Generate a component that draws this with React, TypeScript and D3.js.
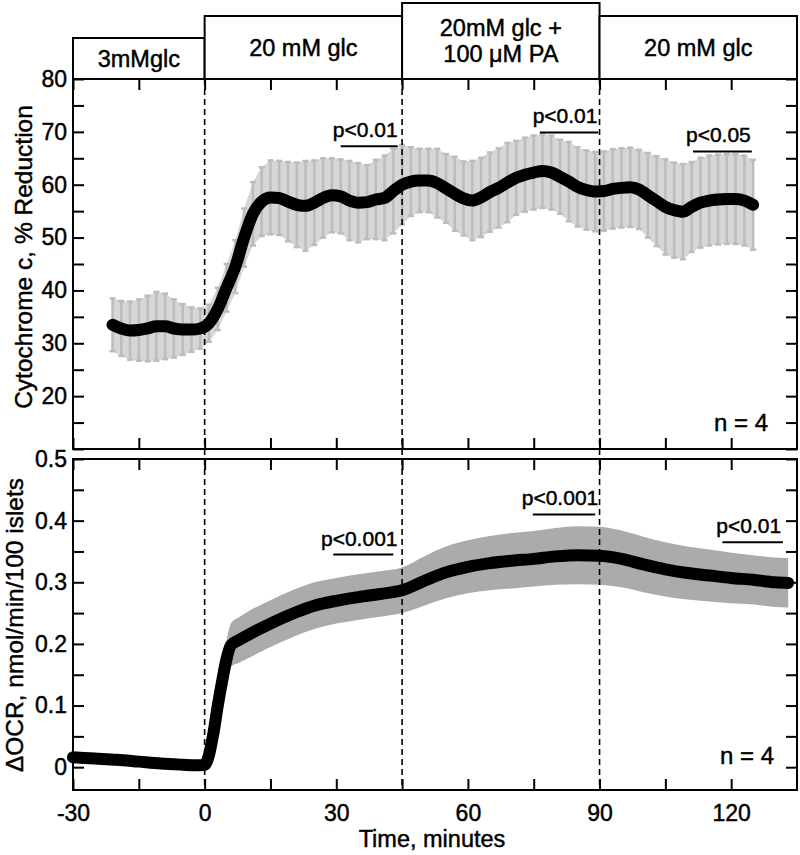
import React, { useRef, useEffect } from "react";
import * as d3 from "d3";

// phases shown in the header boxes
const phaseLabels = [["3mMglc"], ["20 mM glc"], ["20mM glc +", "100 μM PA"], ["20 mM glc"]];
const phaseStart = [-30, 0, 45, 90];
const phaseEnd = [0, 45, 90, 135];
const phaseChanges = [0, 45, 90];

// cytochrome c reduction (%), mean and SD
const cytTime = [
  -21, -19, -17, -15, -13, -11, -9, -7, -5, -3, -1, 1, 3, 5, 7, 9, 11, 13, 15, 17,
  19, 21, 23, 25, 27, 29, 31, 33, 35, 37, 39, 41, 43, 45, 47, 49, 51, 53, 55, 57,
  59, 61, 63, 65, 67, 69, 71, 73, 75, 77, 79, 81, 83, 85, 87, 89, 91, 93, 95, 97,
  99, 101, 103, 105, 107, 109, 111, 113, 115, 117, 119, 121, 123, 125,
];
const cytMean = [
  33.5, 32.8, 32.4, 32.5, 32.8, 33.2, 33.2, 32.8, 32.6, 32.6, 32.8, 33.8, 36.5, 40.5, 44.5, 50, 54.5, 56.8, 57.6, 57.5,
  56.8, 56.2, 56.0, 56.6, 57.5, 58.0, 57.8, 57.0, 56.6, 56.7, 57.2, 57.5, 58.8, 60.0, 60.6, 60.8, 60.8, 60.3, 59.3, 58.3,
  57.4, 57.0, 57.6, 58.6, 59.4, 60.4, 61.3, 61.9, 62.3, 62.6, 62.3, 61.5, 60.6, 59.6, 59.0, 58.7, 58.8, 59.2, 59.4, 59.5,
  59.1, 58.0, 56.9, 55.8, 55.2, 54.9, 55.8, 56.6, 57.0, 57.2, 57.3, 57.3, 57.0, 56.2,
];
const cytSd = [
  5.0, 5.2, 5.5, 5.8, 6.2, 6.5, 6.2, 5.5, 4.8, 4.2, 3.8, 3.5, 4.0, 4.5, 5.0, 5.5, 6.0, 6.5, 7.0, 7.0,
  7.5, 8.0, 8.5, 8.0, 7.5, 7.0, 7.0, 7.5, 7.5, 7.0, 7.5, 8.0, 8.0, 7.5, 6.5, 6.0, 6.0, 6.5, 6.5, 7.0,
  7.0, 7.5, 7.5, 7.5, 7.5, 7.5, 7.0, 7.0, 7.0, 7.0, 7.0, 7.0, 7.5, 7.5, 7.5, 7.5, 7.5, 7.5, 7.5, 7.5,
  7.5, 8.0, 8.5, 9.0, 9.0, 9.0, 8.5, 8.5, 8.5, 8.5, 8.5, 8.5, 8.5, 8.5,
];

// delta OCR (nmol/min/100 islets), mean and SD
const ocrTime = [
  -30, -25, -20, -15, -10, -5, -2, 0, 1, 2, 3, 4, 5, 6, 8, 10, 15, 20, 25, 30, 35,
  40, 45, 50, 55, 60, 65, 70, 75, 80, 85, 90, 95, 100, 105, 110, 115, 120, 125, 130, 133,
];
const ocrMean = [
  0.016, 0.014, 0.012, 0.009, 0.006, 0.004, 0.003, 0.004, 0.02, 0.055, 0.1, 0.14, 0.176, 0.198, 0.207, 0.215, 0.233, 0.249, 0.262, 0.27, 0.276,
  0.281, 0.287, 0.302, 0.316, 0.325, 0.331, 0.335, 0.338, 0.342, 0.344, 0.343, 0.338, 0.329, 0.321, 0.315, 0.311, 0.307, 0.304, 0.3, 0.299,
];
const ocrSd = [
  0.006, 0.006, 0.006, 0.006, 0.006, 0.006, 0.006, 0.006, 0.01, 0.015, 0.02, 0.025, 0.03, 0.035, 0.037, 0.038, 0.038, 0.038, 0.038, 0.037, 0.037,
  0.037, 0.037, 0.04, 0.042, 0.043, 0.044, 0.045, 0.045, 0.046, 0.047, 0.047, 0.046, 0.045, 0.044, 0.043, 0.042, 0.041, 0.04, 0.04, 0.04,
];

// significance bars
const sigTopLabel = ["p<0.01", "p<0.01", "p<0.05"];
const sigTopFrom = [31, 76.4, 111.3];
const sigTopTo = [44, 89.7, 124.7];
const sigTopLevel = [67.3, 69.9, 66.3];
const sigBotLabel = ["p<0.001", "p<0.001", "p<0.01"];
const sigBotFrom = [29.3, 74.8, 118];
const sigBotTo = [43, 89, 131.8];
const sigBotLevel = [0.345, 0.41, 0.365];

const xTickValues = [-30, -15, 0, 15, 30, 45, 60, 75, 90, 105, 120];
const cytTicks = [10, 15, 20, 25, 30, 35, 40, 45, 50, 55, 60, 65, 70, 75, 80];
const ocrTicks = [0, 0.05, 0.1, 0.15, 0.2, 0.25, 0.3, 0.35, 0.4, 0.45, 0.5];

const FONT = "'Liberation Sans', Arial, Helvetica, sans-serif";

const App = () => {
  const svgRef = useRef<SVGSVGElement>(null);

  useEffect(() => {
    const svg = d3.select(svgRef.current);
    svg.selectAll("*").remove();
    svg.style("font-family", FONT);

    const left = 73;
    const right = 797;
    const topY0 = 79;
    const topY1 = 449;
    const botY0 = 459;
    const botY1 = 790;

    const x = d3.scaleLinear().domain([-30, 135]).range([left, right]);
    const yTop = d3.scaleLinear().domain([10, 80]).range([topY1, topY0]);
    const yBot = d3.scaleLinear().domain([-0.037, 0.5]).range([botY1, botY0]);

    // slightly heavier text, like the scanned figure
    const heavy = (sel: any) => sel.attr("stroke", "black").attr("stroke-width", 0.45).attr("fill", "black");

    // header boxes
    const boxTops = [38, 16, 3, 16];
    phaseStart.forEach((s, i) => {
      const top = boxTops[i];
      svg
        .append("rect")
        .attr("x", x(s))
        .attr("y", top)
        .attr("width", x(phaseEnd[i]) - x(s))
        .attr("height", topY0 - top)
        .attr("fill", "white")
        .attr("stroke", "black")
        .attr("stroke-width", 2);
      const lines = phaseLabels[i];
      const cy = (top + topY0) / 2;
      lines.forEach((l, j) => {
        svg
          .append("text")
          .attr("x", (x(s) + x(phaseEnd[i])) / 2)
          .attr("y", cy + 8 + (j - (lines.length - 1) / 2) * 26)
          .attr("text-anchor", "middle")
          .style("font-size", "23.5px")
          .call(heavy)
          .text(l);
      });
    });

    // top panel: error bars over a light band
    const cytData = cytTime.map((t, i) => ({ t, m: cytMean[i], sd: cytSd[i] }));
    const cytBand = d3
      .area<any>()
      .x((d) => x(d.t))
      .y0((d) => yTop(d.m - d.sd))
      .y1((d) => yTop(d.m + d.sd))
      .curve(d3.curveLinear);
    svg.append("path").datum(cytData).attr("d", cytBand).attr("fill", "#d6d6d6");
    const bars = svg.append("g").attr("stroke", "#bcbcbc").attr("stroke-width", 2.5);
    cytData.forEach((d) => {
      const xx = x(d.t);
      const y0 = yTop(d.m - d.sd);
      const y1 = yTop(d.m + d.sd);
      bars.append("line").attr("x1", xx).attr("x2", xx).attr("y1", y0).attr("y2", y1);
      bars.append("line").attr("x1", xx - 3).attr("x2", xx + 3).attr("y1", y0).attr("y2", y0);
      bars.append("line").attr("x1", xx - 3).attr("x2", xx + 3).attr("y1", y1).attr("y2", y1);
    });

    // bottom panel: SD band
    const ocrData = ocrTime.map((t, i) => ({ t, m: ocrMean[i], sd: ocrSd[i] }));
    const band = d3
      .area<any>()
      .x((d) => x(d.t))
      .y0((d) => yBot(d.m - d.sd))
      .y1((d) => yBot(d.m + d.sd))
      .curve(d3.curveMonotoneX);
    svg.append("path").datum(ocrData).attr("d", band).attr("fill", "#ababab");

    // phase change lines
    phaseChanges.forEach((t) => {
      svg
        .append("line")
        .attr("x1", x(t))
        .attr("x2", x(t))
        .attr("y1", topY0)
        .attr("y2", botY1)
        .attr("stroke", "black")
        .attr("stroke-width", 1.6)
        .attr("stroke-dasharray", "6,4");
    });

    // mean traces
    const cytLine = d3
      .line<any>()
      .x((d) => x(d.t))
      .y((d) => yTop(d.m))
      .curve(d3.curveMonotoneX);
    const ocrLine = d3
      .line<any>()
      .x((d) => x(d.t))
      .y((d) => yBot(d.m))
      .curve(d3.curveMonotoneX);
    [
      [cytData, cytLine],
      [ocrData, ocrLine],
    ].forEach(([data, gen]: any) => {
      svg
        .append("path")
        .datum(data)
        .attr("d", gen)
        .attr("fill", "none")
        .attr("stroke", "black")
        .attr("stroke-width", 12)
        .attr("stroke-linecap", "round")
        .attr("stroke-linejoin", "round");
    });

    // axes and frames
    const styleAxis = (g: any) => {
      g.select(".domain").remove();
      g.selectAll("line").attr("stroke", "black").attr("stroke-width", 2);
      g.selectAll("text").style("font-size", "23px").style("font-family", FONT).call(heavy);
    };
    const panels = [
      { y: yTop, ticks: cytTicks, y0: topY0, y1: topY1, fmt: (d: number) => (d % 10 === 0 && d >= 20 ? String(d) : "") },
      {
        y: yBot,
        ticks: ocrTicks,
        y0: botY0,
        y1: botY1,
        fmt: (d: number) => (Math.round(d * 100) % 10 === 0 ? (d === 0 ? "0" : d3.format(".1f")(d)) : ""),
      },
    ];
    panels.forEach((p, i) => {
      svg
        .append("g")
        .attr("transform", `translate(${left},0)`)
        .call(d3.axisLeft(p.y).tickValues(p.ticks).tickSizeInner(-11).tickSizeOuter(0).tickPadding(6).tickFormat(p.fmt as any))
        .call(styleAxis);
      svg
        .append("g")
        .attr("transform", `translate(${right},0)`)
        .call(d3.axisRight(p.y).tickValues(p.ticks).tickSizeInner(-11).tickSizeOuter(0).tickFormat(() => ""))
        .call(styleAxis);
      svg
        .append("g")
        .attr("transform", `translate(0,${p.y0})`)
        .call(d3.axisTop(x).tickValues(xTickValues).tickSizeInner(-11).tickSizeOuter(0).tickFormat(() => ""))
        .call(styleAxis);
      svg
        .append("g")
        .attr("transform", `translate(0,${p.y1})`)
        .call(
          d3
            .axisBottom(x)
            .tickValues(xTickValues)
            .tickSizeInner(-11)
            .tickSizeOuter(0)
            .tickPadding(15)
            .tickFormat((d: any) => (i === 1 && d % 30 === 0 ? String(d) : ""))
        )
        .call(styleAxis);
      svg
        .append("rect")
        .attr("x", left)
        .attr("y", p.y0)
        .attr("width", right - left)
        .attr("height", p.y1 - p.y0)
        .attr("fill", "none")
        .attr("stroke", "black")
        .attr("stroke-width", 2);
    });

    // significance annotations
    const drawSig = (labels: string[], from: number[], to: number[], level: number[], y: any) => {
      labels.forEach((lab, i) => {
        const x0 = x(from[i]);
        const x1 = x(to[i]);
        const yy = y(level[i]);
        svg
          .append("line")
          .attr("x1", x0)
          .attr("x2", x1)
          .attr("y1", yy)
          .attr("y2", yy)
          .attr("stroke", "black")
          .attr("stroke-width", 2);
        svg
          .append("text")
          .attr("x", (x0 + x1) / 2 - 4)
          .attr("y", yy - 9)
          .attr("text-anchor", "middle")
          .style("font-size", "21px")
          .call(heavy)
          .text(lab);
      });
    };
    drawSig(sigTopLabel, sigTopFrom, sigTopTo, sigTopLevel, yTop);
    drawSig(sigBotLabel, sigBotFrom, sigBotTo, sigBotLevel, yBot);

    // n labels
    svg.append("text").attr("x", 768).attr("y", 431).attr("text-anchor", "end").style("font-size", "24px").call(heavy).text("n = 4");
    svg.append("text").attr("x", 774).attr("y", 764).attr("text-anchor", "end").style("font-size", "24px").call(heavy).text("n = 4");

    // axis titles
    svg
      .append("text")
      .attr("transform", `translate(32,257) rotate(-90)`)
      .attr("text-anchor", "middle")
      .style("font-size", "24.5px")
      .call(heavy)
      .text("Cytochrome c, % Reduction");
    svg
      .append("text")
      .attr("transform", `translate(23,625) rotate(-90)`)
      .attr("text-anchor", "middle")
      .style("font-size", "24.5px")
      .call(heavy)
      .text("ΔOCR, nmol/min/100 islets");
    svg
      .append("text")
      .attr("x", 432)
      .attr("y", 847)
      .attr("text-anchor", "middle")
      .style("font-size", "23.5px")
      .call(heavy)
      .text("Time, minutes");
  }, []);

  return (
    <svg
      ref={svgRef}
      width={800}
      height={855}
      style={{ position: "absolute", left: 0, top: 0, background: "white" }}
    />
  );
};

export default App;
